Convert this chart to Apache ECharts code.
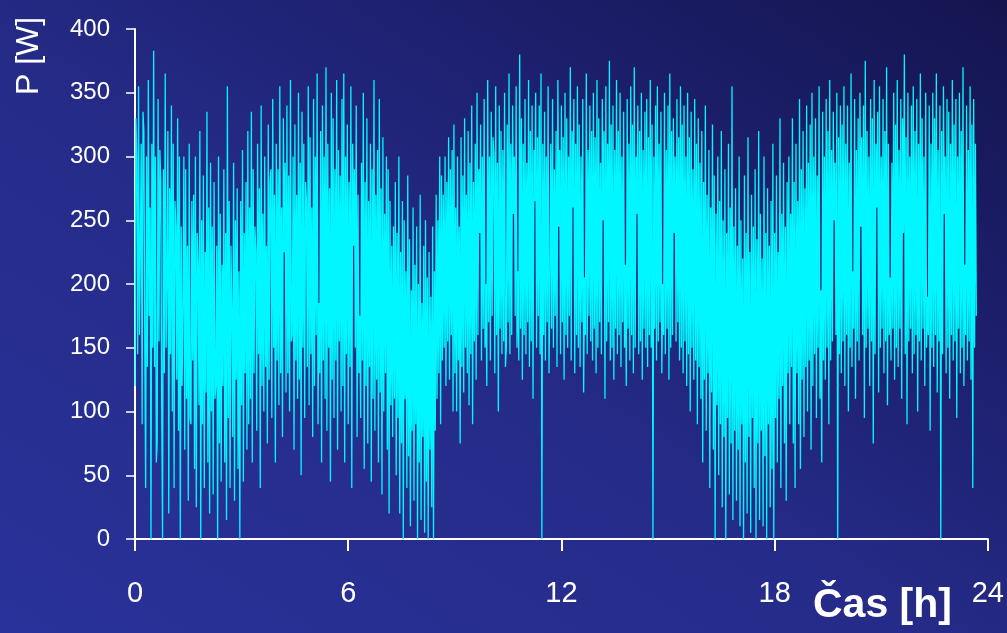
<!DOCTYPE html>
<html>
<head>
<meta charset="utf-8">
<script src="https://cdn.jsdelivr.net/npm/echarts@6/dist/echarts.min.js"></script>
<style>
  html, body { margin: 0; padding: 0; }
  body {
    width: 1007px; height: 633px; overflow: hidden;
    background: linear-gradient(to top right, #29329a 0%, #252b88 45%, #1c1e6a 75%, #14154f 100%);
  }
  #main { width: 1007px; height: 633px; }
</style>
</head>
<body>
<div id="main"></div>
<script>
// one sample every 1.5 minutes (0.025 h), values in W
const stepHours = 0.025;
const hourTicks = ['0', '6', '12', '18', '24'];
const power = [
  // 0.0 h
  120, 330, 300, 145, 355, 160, 230, 310, 90, 335, 320, 150, 40, 300, 135, 360, 175, 260, 0, 310,
  150, 383, 135, 300, 60, 75, 345, 155, 305, 280, 110, 0, 290, 130, 365, 150, 200, 320, 20, 275,
  // 1.0 h
  145, 340, 100, 310, 40, 265, 245, 125, 330, 85, 300, 0, 245, 120, 180, 300, 70, 290, 110, 230,
  30, 310, 95, 90, 265, 140, 270, 55, 300, 25, 240, 215, 105, 320, 0, 250, 90, 285, 40, 225,
  // 2.0 h
  115, 335, 60, 260, 20, 295, 100, 245, 35, 280, 110, 120, 230, 0, 300, 75, 255, 45, 215, 120,
  290, 60, 240, 15, 355, 95, 265, 40, 230, 180, 80, 295, 30, 250, 125, 275, 55, 210, 0, 265,
  // 3.0 h
  105, 305, 45, 240, 130, 280, 70, 320, 90, 260, 110, 335, 60, 290, 130, 245, 225, 85, 310, 145,
  275, 40, 340, 120, 255, 100, 300, 135, 230, 75, 325, 125, 280, 290, 95, 345, 150, 270, 60, 310,
  // 4.0 h
  140, 290, 105, 355, 130, 260, 80, 330, 225, 295, 115, 340, 130, 285, 100, 360, 155, 160, 300, 70,
  325, 140, 270, 110, 350, 125, 295, 50, 335, 150, 310, 95, 280, 265, 135, 355, 105, 315, 145, 260,
  // 5.0 h
  80, 345, 120, 300, 160, 365, 90, 185, 130, 320, 60, 340, 140, 300, 110, 370, 85, 310, 150, 275,
  45, 350, 125, 330, 95, 290, 140, 360, 70, 305, 155, 285, 100, 345, 120, 365, 60, 300, 145, 325,
  // 6.0 h
  90, 280, 135, 355, 40, 310, 230, 290, 150, 340, 80, 270, 130, 175, 95, 295, 140, 350, 55, 280,
  120, 330, 75, 265, 135, 310, 45, 290, 110, 360, 85, 270, 125, 305, 60, 345, 115, 275, 35, 315,
  // 7.0 h
  100, 255, 130, 300, 70, 290, 20, 265, 105, 230, 80, 245, 110, 280, 50, 240, 95, 300, 20, 225,
  75, 265, 0, 250, 110, 210, 40, 285, 65, 235, 10, 195, 85, 260, 30, 215, 90, 245, 0, 200,
  // 8.0 h
  60, 270, 15, 185, 80, 230, 5, 250, 45, 205, 0, 225, 70, 190, 25, 245, 0, 210, 85, 270,
  110, 250, 130, 300, 90, 285, 140, 270, 150, 300, 120, 280, 155, 315, 125, 290, 160, 305, 100, 325,
  // 9.0 h
  130, 260, 100, 300, 140, 245, 75, 315, 135, 285, 115, 330, 150, 270, 130, 320, 105, 295, 145, 340,
  90, 280, 155, 310, 125, 350, 160, 290, 240, 325, 140, 300, 165, 345, 150, 200, 120, 360, 170, 300,
  // 10.0 h
  140, 335, 175, 315, 300, 130, 355, 160, 295, 100, 340, 165, 320, 145, 305, 155, 350, 135, 150, 325,
  170, 365, 145, 310, 160, 340, 255, 300, 175, 355, 150, 210, 140, 380, 165, 330, 125, 310, 160, 345,
  // 11.0 h
  145, 295, 170, 360, 135, 320, 155, 340, 110, 305, 265, 350, 150, 315, 175, 340, 145, 365, 0, 310,
  160, 335, 140, 300, 170, 355, 130, 195, 310, 165, 345, 150, 290, 175, 320, 135, 360, 245, 305, 145,
  // 12.0 h
  340, 170, 315, 125, 350, 160, 330, 150, 300, 175, 370, 140, 320, 260, 345, 130, 310, 160, 355, 150,
  325, 135, 300, 170, 345, 115, 205, 160, 365, 145, 305, 175, 340, 155, 320, 140, 350, 165, 315, 130,
  // 13.0 h
  360, 150, 330, 170, 295, 145, 345, 250, 320, 110, 355, 155, 310, 170, 375, 140, 325, 150, 340, 125,
  305, 165, 360, 145, 320, 160, 350, 135, 300, 170, 335, 150, 215, 120, 345, 165, 310, 140, 355, 160,
  // 14.0 h
  325, 130, 370, 150, 300, 255, 340, 145, 320, 155, 350, 125, 305, 165, 335, 150, 345, 135, 315, 160,
  360, 150, 325, 0, 300, 165, 340, 140, 355, 155, 310, 170, 335, 130, 200, 160, 350, 145, 305, 165,
  // 15.0 h
  340, 125, 365, 150, 320, 160, 330, 240, 300, 155, 345, 170, 315, 140, 355, 150, 325, 130, 340, 155,
  300, 120, 350, 145, 315, 100, 335, 150, 290, 125, 345, 140, 310, 90, 330, 135, 295, 110, 320, 60,
  // 16.0 h
  280, 125, 340, 85, 270, 130, 305, 40, 260, 115, 325, 70, 285, 0, 255, 105, 300, 50, 265, 90,
  320, 25, 250, 80, 290, 0, 240, 95, 310, 35, 260, 75, 355, 15, 245, 85, 275, 30, 230, 70,
  // 17.0 h
  300, 10, 250, 90, 220, 0, 285, 60, 240, 20, 315, 80, 225, 5, 270, 95, 245, 40, 290, 0,
  235, 75, 320, 15, 255, 85, 220, 10, 300, 65, 240, 0, 275, 90, 230, 25, 265, 55, 310, 0,
  // 18.0 h
  240, 95, 285, 60, 225, 110, 330, 40, 255, 120, 295, 75, 245, 30, 280, 130, 300, 90, 255, 135,
  330, 75, 280, 40, 310, 130, 265, 90, 345, 55, 290, 125, 320, 80, 275, 135, 340, 100, 295, 140,
  // 19.0 h
  325, 70, 350, 120, 300, 145, 330, 95, 285, 150, 355, 110, 195, 60, 335, 140, 300, 125, 345, 150,
  320, 90, 360, 140, 305, 155, 335, 250, 295, 160, 350, 0, 315, 145, 340, 130, 325, 155, 355, 120,
  // 20.0 h
  310, 160, 340, 100, 295, 150, 365, 135, 210, 165, 345, 110, 305, 155, 330, 140, 350, 245, 315, 160,
  340, 95, 375, 150, 320, 165, 300, 120, 345, 155, 330, 75, 360, 145, 310, 260, 335, 115, 355, 150,
  // 21.0 h
  300, 165, 345, 130, 320, 155, 370, 105, 310, 160, 205, 140, 295, 165, 350, 125, 325, 150, 360, 135,
  305, 165, 345, 110, 330, 240, 380, 145, 315, 90, 350, 155, 300, 165, 340, 130, 355, 145, 320, 160,
  // 22.0 h
  345, 100, 310, 155, 365, 140, 330, 165, 300, 120, 350, 150, 190, 160, 340, 85, 310, 150, 350, 135,
  330, 160, 365, 115, 305, 155, 340, 0, 320, 145, 355, 255, 300, 130, 345, 150, 335, 110, 310, 160,
  // 23.0 h
  360, 140, 325, 155, 345, 95, 300, 165, 350, 130, 320, 150, 370, 120, 215, 160, 340, 140, 305, 155,
  355, 125, 325, 40, 345, 150, 310, 175
];

const chart = echarts.init(document.getElementById('main'), null, { renderer: 'canvas' });

const white = '#ffffff';
const font = 'Arial, "Liberation Sans", sans-serif';

const option = {
  backgroundColor: 'transparent',
  animation: false,
  grid: { left: 135, right: 19, top: 29, bottom: 94 },
  xAxis: {
    type: 'value',
    min: 0,
    max: 24,
    interval: 6,
    axisLine: { show: true, onZero: false, lineStyle: { color: white, width: 2 } },
    axisTick: { show: true, inside: false, length: 12, lineStyle: { color: white, width: 2 } },
    splitLine: { show: false },
    axisLabel: {
      color: white,
      fontFamily: font,
      fontSize: 29,
      margin: 40,
      formatter: (v) => hourTicks[Math.round(v / 6)]
    }
  },
  yAxis: {
    type: 'value',
    min: 0,
    max: 400,
    interval: 50,
    axisLine: { show: true, lineStyle: { color: white, width: 2 } },
    axisTick: { show: true, length: 9, lineStyle: { color: white, width: 1.5 } },
    splitLine: { show: false },
    axisLabel: { color: white, fontFamily: font, fontSize: 24, margin: 25 }
  },
  graphic: [
    {
      type: 'text',
      left: 813,
      top: 585,
      style: { text: 'Čas [h]', fill: white, font: 'bold 41px ' + font }
    },
    {
      type: 'text',
      x: 13,
      y: 95,
      rotation: Math.PI / 2,
      style: { text: 'P [W]', fill: white, font: '32px ' + font }
    }
  ],
  series: [
    {
      type: 'line',
      step: 'end',
      symbol: 'none',
      sampling: null,
      lineStyle: { color: '#00f7ff', width: 1.3 },
      data: power.map((v, i) => [i * stepHours, v])
    }
  ]
};

chart.setOption(option);
</script>
</body>
</html>
